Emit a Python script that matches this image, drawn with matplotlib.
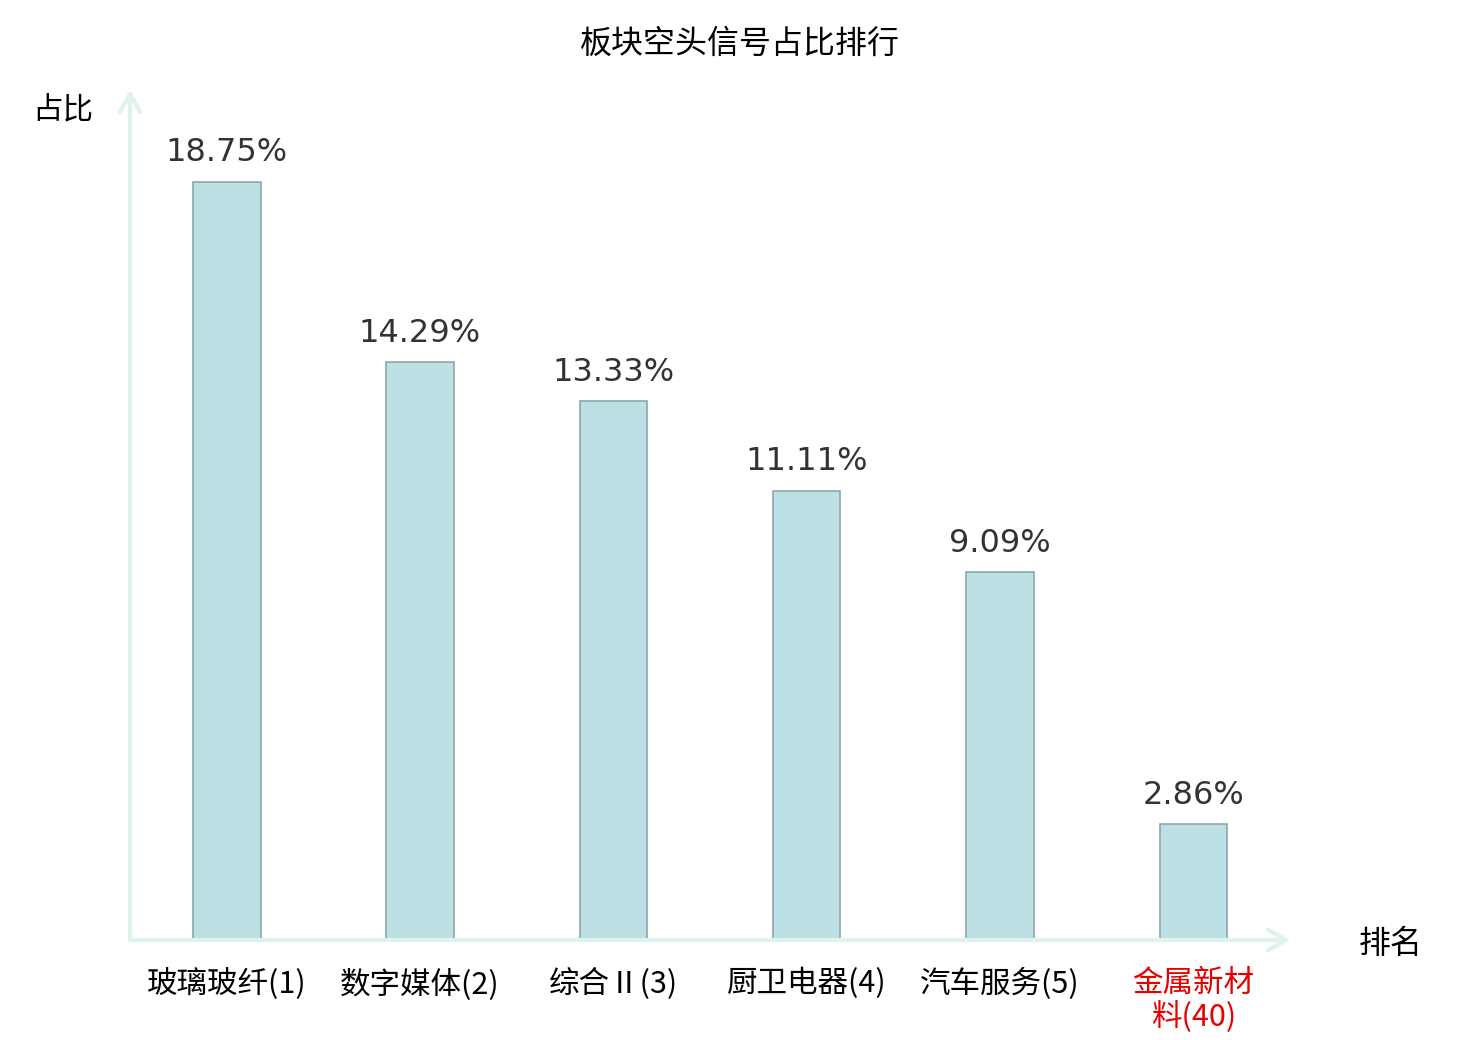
import matplotlib
matplotlib.use("Agg")
import matplotlib.pyplot as plt

# data
sectors = ["玻璃玻纤(1)", "数字媒体(2)", "综合Ⅱ(3)", "厨卫电器(4)", "汽车服务(5)", "金属新材\n料(40)"]
shares = [18.75, 14.29, 13.33, 11.11, 9.09, 2.86]
label_colors = ["black", "black", "black", "black", "black", "#e60000"]

CJK = ["Noto Sans CJK SC", "DejaVu Sans"]
AXIS_COLOR = "#def2ef"

fig = plt.figure(figsize=(14.8, 10.4), dpi=100)
ax = fig.add_axes([130 / 1480, 100 / 1040, 1160 / 1480, 850 / 1040])

x = list(range(len(sectors)))
ax.bar(x, shares, width=0.35, color="#bce0e3", edgecolor="#8aa8a9", linewidth=1.2)
for xi, v in zip(x, shares):
    ax.text(xi, v + 0.33, f"{v:.2f}%", ha="center", va="bottom",
            fontsize=23, color="#333333", family="DejaVu Sans")

ax.set_xlim(-0.5, 5.5)
ax.set_ylim(0, 21.02)
for s in ax.spines.values():
    s.set_visible(False)
ax.set_yticks([])
ax.set_xticks(x)
ax.set_xticklabels(sectors, fontsize=22, family=CJK, linespacing=1.08)
for lab, c in zip(ax.get_xticklabels(), label_colors):
    lab.set_color(c)
ax.tick_params(axis="x", length=0, pad=20)

# axis arrows
arrow = dict(arrowstyle="->,head_length=1.3,head_width=0.75", color=AXIS_COLOR,
             linewidth=3, shrinkA=0, shrinkB=0)
ax.annotate("", xy=(0, 1), xytext=(0, 0), xycoords="axes fraction", arrowprops=arrow)
ax.annotate("", xy=(1, 0), xytext=(0, 0), xycoords="axes fraction", arrowprops=arrow)

fig.text(63 / 1480, 1 - 110 / 1040, "占比", ha="center", va="center", fontsize=22, family=CJK)
fig.text(1391 / 1480, 1 - 944 / 1040, "排名", ha="center", va="center", fontsize=23, family=CJK)
fig.text(0.5, 1 - 44 / 1040, "板块空头信号占比排行", ha="center", va="center", fontsize=23, family=CJK)

fig.savefig("out.png", dpi=100)
